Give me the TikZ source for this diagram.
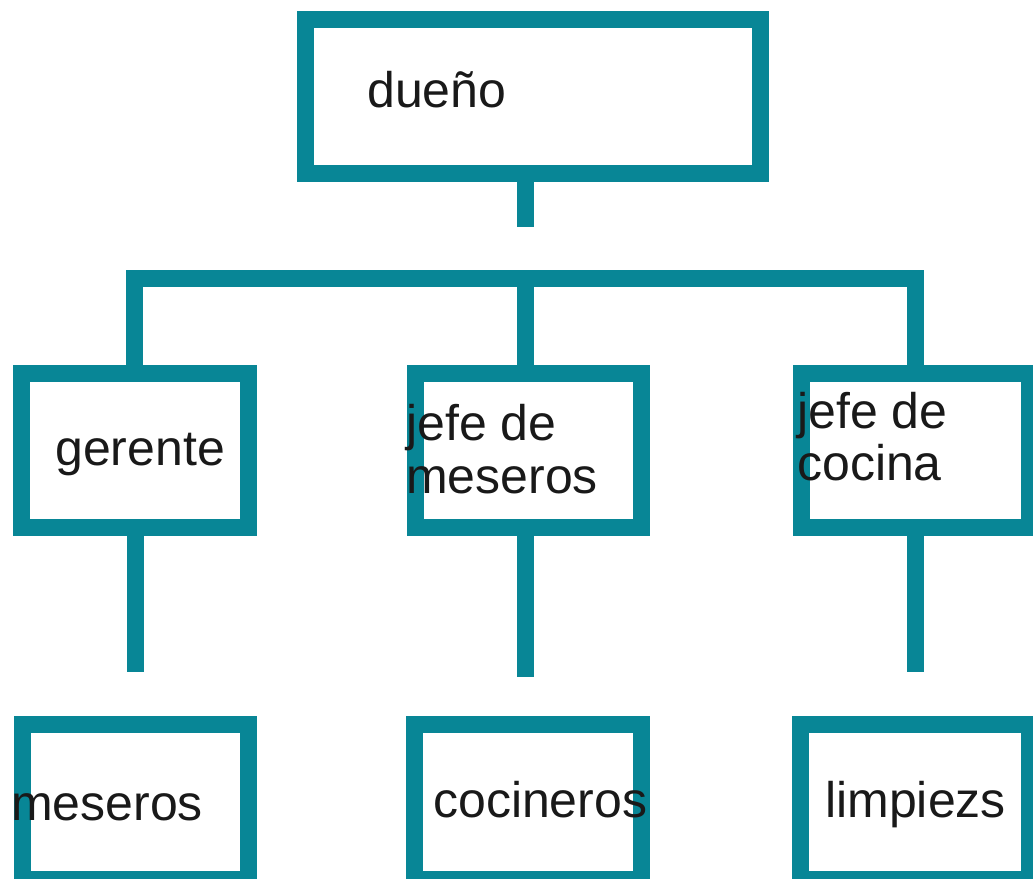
\documentclass[tikz,border=0pt]{standalone}
\usepackage{fontspec}
\setmainfont{Liberation Sans}
\definecolor{teal}{RGB}{8,134,150}
\begin{document}
\begin{tikzpicture}[x=0.75pt,y=-0.75pt,
  box/.style={draw=teal,line width=12.75pt,fill=none,rectangle,inner sep=0pt,line join=miter},
  conn/.style={draw=teal,line width=12.75pt,line join=miter,line cap=butt},
  lbl/.style={anchor=base west,inner sep=0pt,font=\fontsize{37.5pt}{40pt}\selectfont,text=black!90}]
\useasboundingbox (0,0) rectangle (1033,879);
% boxes
\node[box,minimum width=455*0.75pt,minimum height=154*0.75pt] (top) at (532.5,96) {};
\node[box,minimum width=227*0.75pt,minimum height=154*0.75pt] (g) at (134.5,450) {};
\node[box,minimum width=226*0.75pt,minimum height=154*0.75pt] (jm) at (528,450) {};
\node[box,minimum width=228*0.75pt,minimum height=154*0.75pt] (jc) at (915,450) {};
\node[box,minimum width=226*0.75pt,minimum height=155*0.75pt] (mes) at (135,801.5) {};
\node[box,minimum width=227*0.75pt,minimum height=155*0.75pt] (coc) at (528,801.5) {};
\node[box,minimum width=229*0.75pt,minimum height=155*0.75pt] (lim) at (915,801.5) {};
% connectors
\coordinate (t1) at (525,227);
\coordinate (bl) at (135,278);
\coordinate (br) at (915,278);
\coordinate (d1) at (135,672);
\coordinate (d2) at (525,677);
\coordinate (d3) at (915,672);
\draw[conn] (top.south -| t1) -- (t1);
\draw[conn] (g.north) |- (br) -- (jc.north);
\draw[conn] (jm.north -| t1) -- (t1 |- br);
\draw[conn] (g.south -| d1) -- (d1);
\draw[conn] (jm.south -| d2) -- (d2);
\draw[conn] (jc.south -| d3) -- (d3);
% labels
\node[lbl] (tdue) at (367,107) {dueño};
\node[lbl] (tger) at (55,465) {gerente};
\node[lbl] (tjm1) at (406,440) {jefe de};
\node[lbl] (tjm2) at (406,493) {meseros};
\node[lbl] (tjc1) at (797,428) {jefe de};
\node[lbl] (tjc2) at (797,480) {cocina};
\node[lbl] (tmes) at (11,820) {meseros};
\node[lbl] (tcoc) at (433,817) {cocineros};
\node[lbl] (tlim) at (825,817) {limpiezs};
\end{tikzpicture}
\end{document}
